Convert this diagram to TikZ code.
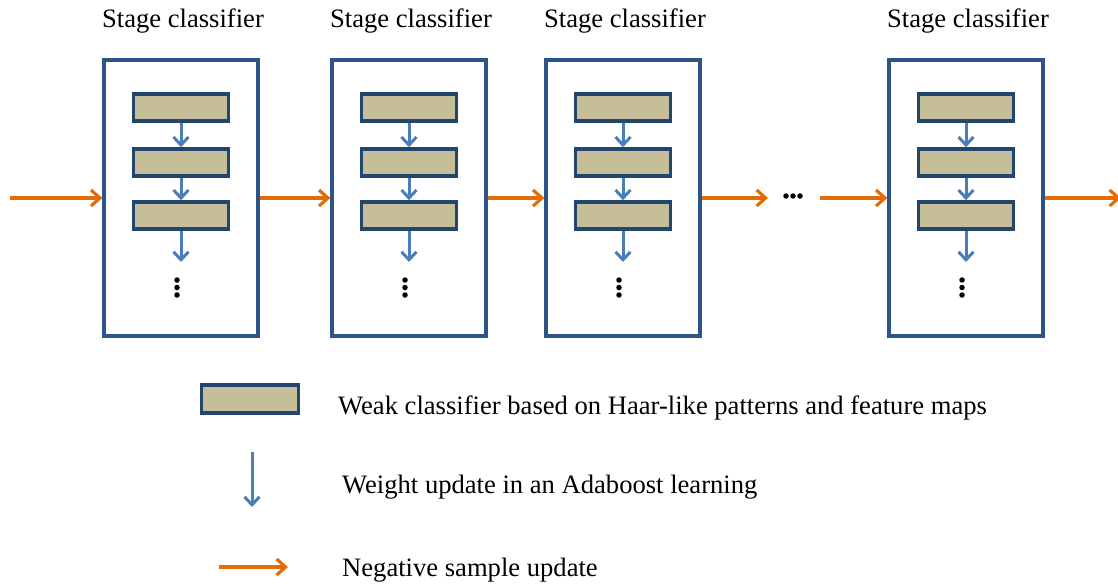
\documentclass[tikz,border=0pt]{standalone}
\usepackage{fontspec}
\setmainfont{Liberation Serif}
\usetikzlibrary{arrows.meta}
\definecolor{boxblue}{HTML}{2C5486}
\definecolor{wkborder}{HTML}{23466F}
\definecolor{wkfill}{HTML}{C6BE98}
\definecolor{arrblue}{HTML}{4A7EBB}
\definecolor{arrorange}{HTML}{E36C09}
\tikzset{
  stagebox/.style={draw=boxblue, line width=3.2pt, fill=white, minimum width=154pt, minimum height=276pt, inner sep=0pt},
  weakbox/.style={draw=wkborder, line width=3.6pt, fill=wkfill, minimum width=95pt, minimum height=27pt, inner sep=0pt},
  wupd/.style={draw=arrblue, line width=3pt, -{Straight Barb[length=8pt,width=15pt,line width=3pt]}},
  negupd/.style={draw=arrorange, line width=3.2pt, -{Straight Barb[length=9pt,width=16pt,line width=3.2pt]}},
  lbl/.style={font=\fontsize{26.6}{30}\selectfont, inner sep=0pt},
  dot/.style={circle, fill=black, minimum size=5.5pt, inner sep=0pt}
}
\begin{document}
\begin{tikzpicture}[x=1pt,y=-1pt]
\useasboundingbox (0,0) rectangle (1118,586);
% stages
\foreach \n/\cx in {1/181,2/409,3/623,4/966}{
  \node[stagebox] (s\n) at (\cx,198) {};
  \node[lbl] (t\n) at (\cx+2,21) {Stage classifier};
  \node[weakbox] (w\n a) at (\cx,107.5) {};
  \node[weakbox] (w\n b) at (\cx,162.5) {};
  \node[weakbox] (w\n c) at (\cx,215.5) {};
  \coordinate (e\n) at (\cx,262);
  \draw[wupd] (w\n a.south) -- (w\n b.north);
  \draw[wupd] (w\n b.south) -- (w\n c.north);
  \draw[wupd] (w\n c.south) -- (e\n);
  \node[dot] (v\n a) at (\cx-4,280) {};
  \node[dot] (v\n b) at (\cx-4,287.5) {};
  \node[dot] (v\n c) at (\cx-4,295) {};
}
% horizontal flow
\coordinate (in) at (10,198);
\coordinate (d1) at (768,198);
\coordinate (d2) at (820,198);
\coordinate (out) at (1121,198);
\node[dot] (h1) at (786,196) {};
\node[dot] (h2) at (793,196) {};
\node[dot] (h3) at (800,196) {};
\draw[negupd] (in) -- (s1.west);
\draw[negupd] (s1.east) -- (s2.west);
\draw[negupd] (s2.east) -- (s3.west);
\draw[negupd] (s3.east) -- (d1);
\draw[negupd] (d2) -- (s4.west);
\draw[negupd] (s4.east) -- (out);
% legend
\node[weakbox, minimum width=97pt, minimum height=28pt] (lw) at (250,399) {};
\node[lbl, anchor=west] (lwt) at (338,408) {Weak classifier based on Haar-like patterns and feature maps};
\coordinate (lb1) at (252,452);
\coordinate (lb2) at (252,507);
\draw[wupd] (lb1) -- (lb2);
\node[lbl, anchor=west] (lbt) at (342,487) {Weight update in an Adaboost learning};
\coordinate (lo1) at (219,567);
\coordinate (lo2) at (288,567);
\draw[negupd] (lo1) -- (lo2);
\node[lbl, anchor=west] (lot) at (342,570) {Negative sample update};
\end{tikzpicture}
\end{document}
